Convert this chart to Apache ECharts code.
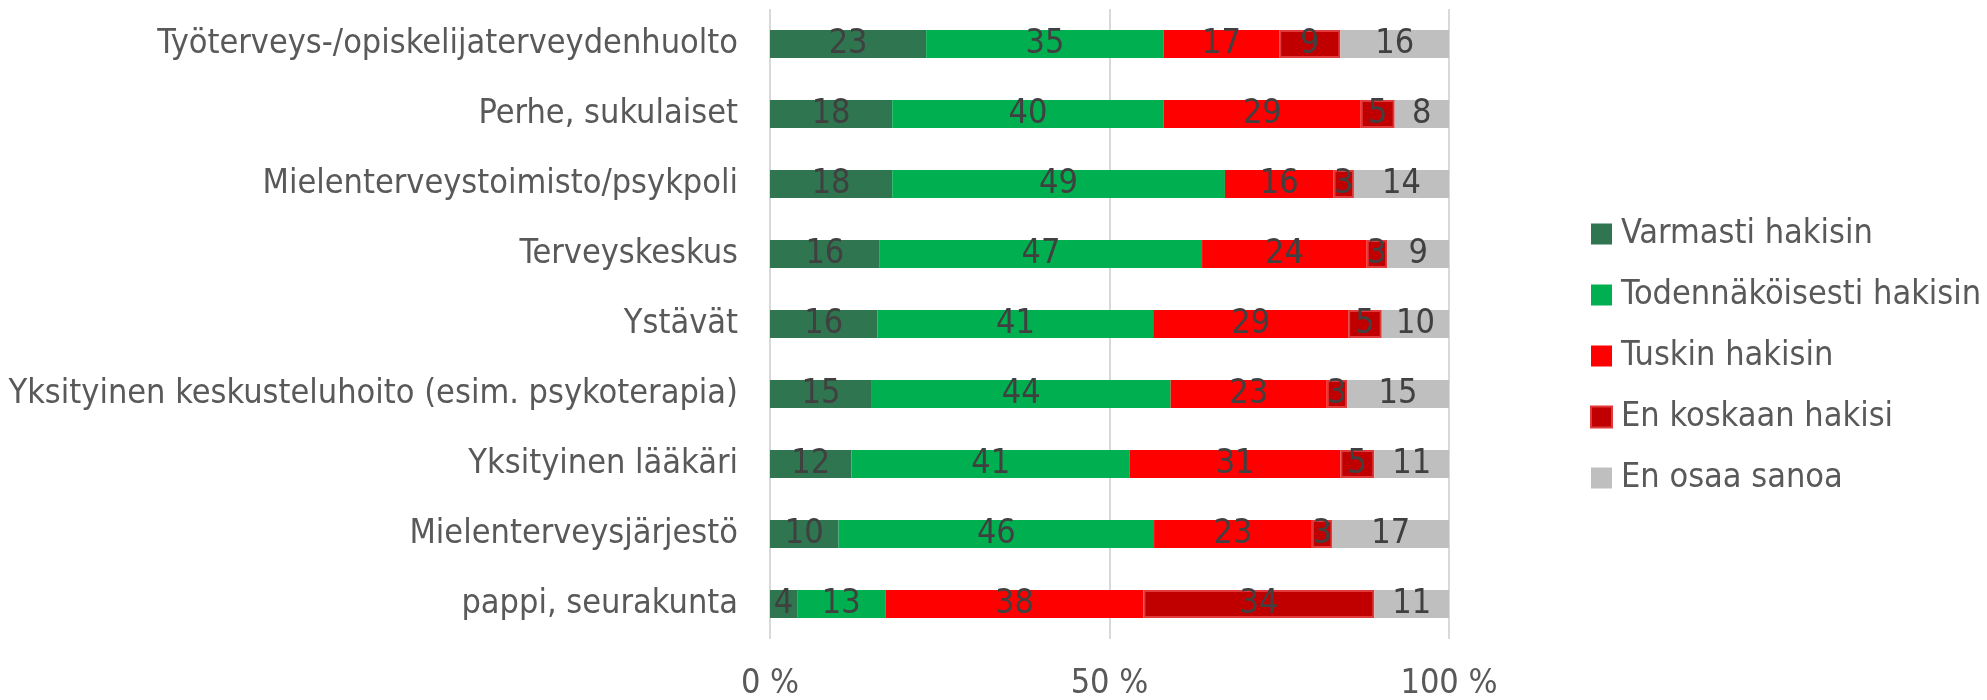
<!DOCTYPE html>
<html>
<head>
<meta charset="utf-8">
<script src="https://cdn.jsdelivr.net/npm/echarts@6/dist/echarts.min.js"></script>
<style>
    html, body {margin: 0; padding: 0; background: #fff;}
    #main_echarts {width: 1987px; height: 700px;}
</style>
</head>
<body>
<div id="main_echarts"></div>
<script>
var categories = [
    'Työterveys-/opiskelijaterveydenhuolto',
    'Perhe, sukulaiset',
    'Mielenterveystoimisto/psykpoli',
    'Terveyskeskus',
    'Ystävät',
    'Yksityinen keskusteluhoito (esim. psykoterapia)',
    'Yksityinen lääkäri',
    'Mielenterveysjärjestö',
    'pappi, seurakunta'
];
var seriesNames = ['Varmasti hakisin', 'Todennäköisesti hakisin', 'Tuskin hakisin', 'En koskaan hakisi', 'En osaa sanoa'];
var varmasti = [23, 18, 18, 16, 16, 15, 12, 10, 4];
var todennakoisesti = [35, 40, 49, 47, 41, 44, 41, 46, 13];
var tuskin = [17, 29, 16, 24, 29, 23, 31, 23, 38];
var enKoskaan = [9, 5, 3, 3, 5, 3, 5, 3, 34];
var enOsaa = [16, 8, 14, 9, 10, 15, 11, 17, 11];
var xTicks = [0, 50, 100];

var colors = ['#2E7550', '#00B050', '#FF0000', '#C00000', '#BFBFBF'];
var fontName = '"Liberation Sans Narrow", "DejaVu Sans Condensed", sans-serif';
var fontSize = 34;

var allValues = [varmasti, todennakoisesti, tuskin, enKoskaan, enOsaa];
// 100 % pinottu: jokainen rivi skaalataan summaansa
var totals = [];
for (var i = 0; i < categories.length; i++) {
    var s = 0;
    for (var k = 0; k < allValues.length; k++) {
        s += allValues[k][i];
    }
    totals.push(s);
}

var series = [];
for (var k = 0; k < allValues.length; k++) {
    var data = [];
    for (var i = 0; i < categories.length; i++) {
        data.push({value: allValues[k][i] / totals[i] * 100, raw: allValues[k][i]});
    }
    var item = {
        name: seriesNames[k],
        type: 'bar',
        stack: 'total',
        barWidth: 28,
        data: data,
        itemStyle: {color: colors[k]},
        label: {
            show: true,
            position: 'inside',
            color: '#404040',
            fontFamily: fontName,
            fontSize: fontSize,
            formatter: function (p) {
                return p.data.raw;
            }
        }
    };
    if (k === 3) {
        item.itemStyle.borderColor = '#E03A3A';
        item.itemStyle.borderWidth = 2;
    }
    series.push(item);
}

var main_echarts = document.getElementById('main_echarts');
var myChart = echarts.init(main_echarts);
var option = {
    animation: false,
    color: colors,
    grid: {left: 770, right: 538, top: 9, bottom: 61, containLabel: false, outerBoundsMode: 'none'},
    legend: {
        orient: 'vertical',
        left: 1585,
        top: 212,
        icon: 'rect',
        itemWidth: 21,
        itemHeight: 21,
        itemGap: 27,
        data: seriesNames,
        textStyle: {color: '#595959', fontFamily: fontName, fontSize: fontSize, lineHeight: 34, padding: [0, 0, 0, 4]}
    },
    xAxis: {
        type: 'value',
        min: xTicks[0],
        max: xTicks[xTicks.length - 1],
        interval: xTicks[1] - xTicks[0],
        axisLine: {show: false},
        axisTick: {show: false},
        splitLine: {show: true, lineStyle: {color: '#D9D9D9', width: 2}},
        axisLabel: {
            color: '#595959',
            fontFamily: fontName,
            fontSize: fontSize,
            margin: 28,
            formatter: '{value} %'
        }
    },
    yAxis: {
        type: 'category',
        inverse: true,
        data: categories,
        axisLine: {show: false},
        axisTick: {show: false},
        axisLabel: {color: '#595959', fontFamily: fontName, fontSize: fontSize, margin: 32}
    },
    series: series
};
myChart.setOption(option);
window.onresize = myChart.resize;
</script>
</body>
</html>
